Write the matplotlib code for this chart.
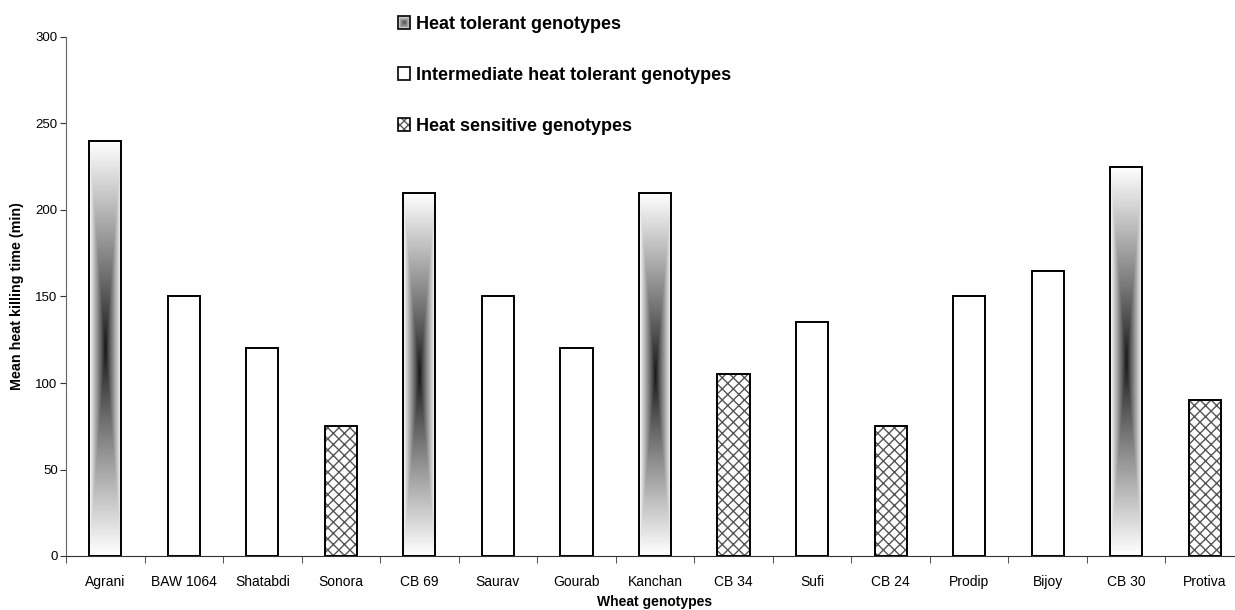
import numpy as np
import matplotlib
matplotlib.use("Agg")
import matplotlib.pyplot as plt
from matplotlib.patches import Rectangle
from matplotlib.legend_handler import HandlerBase

plt.rcParams['font.family'] = ['Liberation Sans', 'DejaVu Sans']

# data
genotypes = ["Agrani", "BAW 1064", "Shatabdi", "Sonora", "CB 69", "Saurav", "Gourab",
             "Kanchan", "CB 34", "Sufi", "CB 24", "Prodip", "Bijoy", "CB 30", "Protiva"]
killing_time = [240, 150, 120, 75, 210, 150, 120, 210, 105, 135, 75, 150, 165, 225, 90]
group = ["tol", "int", "int", "sen", "tol", "int", "int", "tol", "sen", "int",
         "sen", "int", "int", "tol", "sen"]
legend_labels = ["Heat tolerant genotypes", "Intermediate heat tolerant genotypes",
                 "Heat sensitive genotypes"]

hatch_col = "#555555"
bar_w = 0.41

fig = plt.figure(figsize=(12.35, 6.10), dpi=100)
ax = fig.add_axes([66/1235, 54/610, 1178/1235, 519/610])

x = np.arange(len(genotypes))

# rectangular "from centre" gradient: dark in the middle, white at the edges
ny, nx = 300, 60
gy, gx = np.mgrid[-1:1:ny*1j, -1:1:nx*1j]
t = np.maximum(np.abs(gx), np.abs(gy))
grad = 0.08 + 0.92 * t**0.9

for xi, v, g in zip(x, killing_time, group):
    x0 = xi - bar_w/2
    if g == "tol":
        rect = ax.bar(xi, v, bar_w, color="white", edgecolor="none", zorder=2)[0]
        im = ax.imshow(grad, cmap="gray", vmin=0, vmax=1, aspect="auto",
                       extent=(x0, x0 + bar_w, 0, v), zorder=2.5, interpolation="bilinear")
        im.set_clip_path(rect)
    elif g == "sen":
        ax.bar(xi, v, bar_w, color="white", edgecolor=hatch_col, linewidth=0,
               hatch="xxx", zorder=2)
    else:
        ax.bar(xi, v, bar_w, color="white", edgecolor="none", zorder=2)
    ax.bar(xi, v, bar_w, fill=False, edgecolor="black", linewidth=1.4, zorder=3)

ax.set_xlim(-0.5, len(genotypes) - 0.5)
ax.set_ylim(0, 300)
ax.set_yticks(np.arange(0, 301, 50))
ax.set_xticks(x)
ax.set_xticklabels(genotypes, fontsize=10)
ax.set_xticks(np.arange(-0.5, len(genotypes), 1), minor=True)
ax.tick_params(axis="x", which="major", length=0, pad=14)
ax.tick_params(axis="x", which="minor", length=5, color="#333333")
ax.tick_params(axis="y", length=4, pad=2, labelsize=9.5, color="#333333")

for s in ["top", "right"]:
    ax.spines[s].set_visible(False)
ax.spines["left"].set_color("#666666")
ax.spines["bottom"].set_color("#333333")

ax.set_xlabel("Wheat genotypes", fontsize=10, fontweight="bold", labelpad=4)
ax.set_ylabel("Mean heat killing time (min)", fontsize=10.3, fontweight="bold", labelpad=8)


class BoxHandler(HandlerBase):
    def __init__(self, kind):
        super().__init__()
        self.kind = kind

    def create_artists(self, legend, orig_handle, xdescent, ydescent, width, height,
                       fontsize, trans):
        side = height
        x0 = -xdescent
        y0 = -ydescent
        arts = []
        if self.kind == "tol":
            n = 8
            for i in range(n):
                f = i / n
                c = 0.85 - 0.6 * f
                r = Rectangle((x0 + side*f/2, y0 + side*f/2), side*(1-f), side*(1-f),
                              facecolor=(c, c, c), edgecolor="none", transform=trans)
                arts.append(r)
        elif self.kind == "sen":
            arts.append(Rectangle((x0, y0), side, side, facecolor="white",
                                  edgecolor=hatch_col, linewidth=0, hatch="xxxx",
                                  transform=trans))
        else:
            arts.append(Rectangle((x0, y0), side, side, facecolor="white",
                                  edgecolor="none", transform=trans))
        arts.append(Rectangle((x0, y0), side, side, fill=False, edgecolor="black",
                              linewidth=1.2, transform=trans))
        return arts


proxies = [Rectangle((0, 0), 1, 1) for _ in range(3)]
leg = fig.legend(proxies, legend_labels, loc="upper left",
                 bbox_to_anchor=(389/1235, 1 - 7/610),
                 handler_map={proxies[0]: BoxHandler("tol"),
                              proxies[1]: BoxHandler("int"),
                              proxies[2]: BoxHandler("sen")},
                 frameon=False, borderpad=0, handlelength=0.68, handleheight=0.68,
                 handletextpad=0.3, labelspacing=1.88,
                 prop={"size": 13, "weight": "bold"})

fig.savefig("out.png", dpi=100)
